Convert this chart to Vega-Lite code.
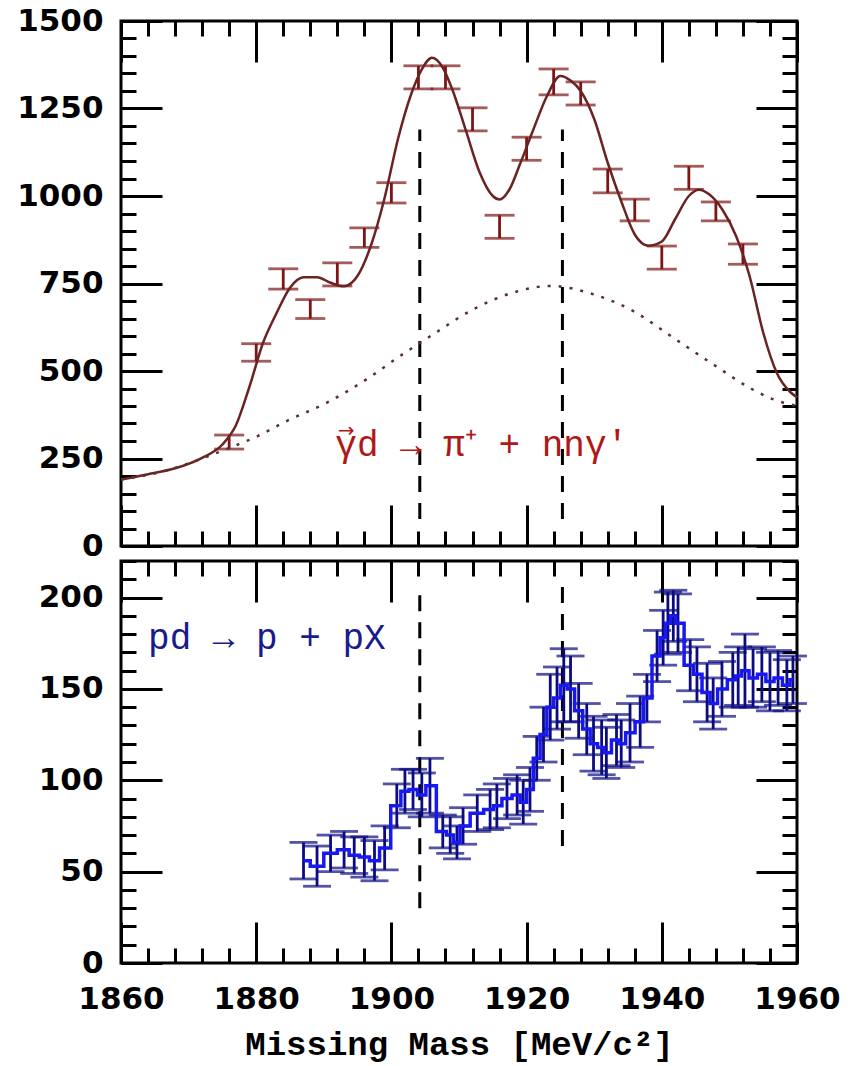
{
  "$schema": "https://vega.github.io/schema/vega-lite/v6.json",
  "autosize": {"type": "pad"},
  "padding": {"left": 15, "top": 3, "right": 5, "bottom": 5},
  "bounds": "flush",
  "spacing": 15,
  "background": "white",
  "datasets": {
    "ptop": [
      {"m": 1876, "n": 297, "lo": 277, "hi": 317},
      {"m": 1880, "n": 553, "lo": 528, "hi": 578},
      {"m": 1884, "n": 763, "lo": 734, "hi": 792},
      {"m": 1888, "n": 677, "lo": 650, "hi": 704},
      {"m": 1892, "n": 776, "lo": 743, "hi": 809},
      {"m": 1896, "n": 881, "lo": 853, "hi": 909},
      {"m": 1900, "n": 1009, "lo": 980, "hi": 1038},
      {"m": 1904, "n": 1339, "lo": 1306, "hi": 1372},
      {"m": 1908, "n": 1339, "lo": 1306, "hi": 1372},
      {"m": 1912, "n": 1219, "lo": 1186, "hi": 1252},
      {"m": 1916, "n": 912, "lo": 879, "hi": 945},
      {"m": 1920, "n": 1135, "lo": 1102, "hi": 1168},
      {"m": 1924, "n": 1326, "lo": 1289, "hi": 1363},
      {"m": 1928, "n": 1293, "lo": 1260, "hi": 1326},
      {"m": 1932, "n": 1043, "lo": 1009, "hi": 1077},
      {"m": 1936, "n": 960, "lo": 929, "hi": 991},
      {"m": 1940, "n": 824, "lo": 791, "hi": 857},
      {"m": 1944, "n": 1052, "lo": 1019, "hi": 1085},
      {"m": 1948, "n": 956, "lo": 929, "hi": 983},
      {"m": 1952, "n": 834, "lo": 805, "hi": 863}
    ],
    "fit": [
      {"m": 1860, "n": 190}, {"m": 1864, "n": 205}, {"m": 1868, "n": 222}, {"m": 1872, "n": 252},
      {"m": 1875, "n": 290}, {"m": 1877, "n": 345}, {"m": 1879, "n": 455}, {"m": 1881, "n": 580},
      {"m": 1883, "n": 665}, {"m": 1885, "n": 738}, {"m": 1887, "n": 768}, {"m": 1889, "n": 768},
      {"m": 1891, "n": 752}, {"m": 1893, "n": 742}, {"m": 1895, "n": 772}, {"m": 1897, "n": 860},
      {"m": 1899, "n": 995}, {"m": 1901, "n": 1165}, {"m": 1903, "n": 1295}, {"m": 1904.5, "n": 1362},
      {"m": 1906, "n": 1395}, {"m": 1907.5, "n": 1370}, {"m": 1909, "n": 1305}, {"m": 1911, "n": 1188},
      {"m": 1913, "n": 1070}, {"m": 1915, "n": 1000}, {"m": 1916, "n": 990}, {"m": 1917.5, "n": 1020},
      {"m": 1919, "n": 1090}, {"m": 1921, "n": 1190}, {"m": 1923, "n": 1285}, {"m": 1925, "n": 1343},
      {"m": 1926.5, "n": 1330}, {"m": 1928, "n": 1300}, {"m": 1930, "n": 1220}, {"m": 1932, "n": 1095},
      {"m": 1934, "n": 985}, {"m": 1936, "n": 890}, {"m": 1938, "n": 858}, {"m": 1940, "n": 870},
      {"m": 1942, "n": 935}, {"m": 1944, "n": 1000}, {"m": 1945.5, "n": 1018}, {"m": 1947, "n": 1005},
      {"m": 1949, "n": 960}, {"m": 1951, "n": 885}, {"m": 1953, "n": 770}, {"m": 1955, "n": 610},
      {"m": 1957, "n": 495}, {"m": 1959, "n": 440}, {"m": 1960, "n": 425}
    ],
    "bg": [
      {"m": 1860, "n": 190}, {"m": 1866, "n": 212}, {"m": 1872, "n": 250}, {"m": 1876, "n": 280},
      {"m": 1880, "n": 312}, {"m": 1884.5, "n": 357}, {"m": 1890.4, "n": 409}, {"m": 1896.3, "n": 476},
      {"m": 1901.3, "n": 543}, {"m": 1906.2, "n": 605}, {"m": 1912.1, "n": 676}, {"m": 1918, "n": 724},
      {"m": 1923.5, "n": 743}, {"m": 1929.9, "n": 719}, {"m": 1935.8, "n": 671}, {"m": 1941.7, "n": 595},
      {"m": 1947.6, "n": 519}, {"m": 1953, "n": 452}, {"m": 1956.5, "n": 419}, {"m": 1960, "n": 400}
    ],
    "dtop": [
      {"m": 1904.2, "lo": 77, "hi": 1190},
      {"m": 1925.3, "lo": 77, "hi": 1190}
    ],
    "dbot": [
      {"m": 1904.2, "lo": 30, "hi": 205},
      {"m": 1925.3, "lo": 64, "hi": 207}
    ],
    "blue": [
      {"m": 1887, "n": 56, "lo": 46, "hi": 66},
      {"m": 1889, "n": 53, "lo": 42, "hi": 64},
      {"m": 1891, "n": 60, "lo": 50, "hi": 70},
      {"m": 1893, "n": 62, "lo": 52, "hi": 72},
      {"m": 1894.5, "n": 59, "lo": 49, "hi": 69},
      {"m": 1896, "n": 58, "lo": 47, "hi": 69},
      {"m": 1897.5, "n": 56, "lo": 45, "hi": 67},
      {"m": 1899, "n": 63, "lo": 51, "hi": 75},
      {"m": 1900.8, "n": 86, "lo": 74, "hi": 98},
      {"m": 1902, "n": 94, "lo": 82, "hi": 106},
      {"m": 1903.2, "n": 95, "lo": 84, "hi": 106},
      {"m": 1904.5, "n": 92, "lo": 80, "hi": 104},
      {"m": 1905.7, "n": 97, "lo": 82, "hi": 112},
      {"m": 1907.6, "n": 72, "lo": 63, "hi": 81},
      {"m": 1908.7, "n": 70, "lo": 60, "hi": 80},
      {"m": 1909.7, "n": 66, "lo": 57, "hi": 75},
      {"m": 1910.6, "n": 75, "lo": 65, "hi": 85},
      {"m": 1912.7, "n": 82, "lo": 72, "hi": 92},
      {"m": 1914.6, "n": 84, "lo": 73, "hi": 95},
      {"m": 1915.6, "n": 86, "lo": 74, "hi": 98},
      {"m": 1917.1, "n": 90, "lo": 79, "hi": 101},
      {"m": 1918.6, "n": 92, "lo": 81, "hi": 103},
      {"m": 1919.5, "n": 88, "lo": 76, "hi": 100},
      {"m": 1920.5, "n": 95, "lo": 83, "hi": 107},
      {"m": 1921.5, "n": 112, "lo": 100, "hi": 124},
      {"m": 1922.5, "n": 125, "lo": 110, "hi": 140},
      {"m": 1923.5, "n": 140, "lo": 122, "hi": 158},
      {"m": 1924.5, "n": 145, "lo": 128, "hi": 162},
      {"m": 1925.5, "n": 152, "lo": 132, "hi": 172},
      {"m": 1926.5, "n": 150, "lo": 132, "hi": 168},
      {"m": 1927.7, "n": 138, "lo": 123, "hi": 153},
      {"m": 1928.9, "n": 128, "lo": 114, "hi": 142},
      {"m": 1929.9, "n": 120, "lo": 105, "hi": 135},
      {"m": 1931.1, "n": 118, "lo": 103, "hi": 133},
      {"m": 1931.8, "n": 115, "lo": 101, "hi": 129},
      {"m": 1933.3, "n": 122, "lo": 108, "hi": 136},
      {"m": 1934, "n": 120, "lo": 107, "hi": 133},
      {"m": 1935.3, "n": 126, "lo": 110, "hi": 142},
      {"m": 1936.8, "n": 132, "lo": 118, "hi": 146},
      {"m": 1937.8, "n": 145, "lo": 132, "hi": 158},
      {"m": 1939.3, "n": 168, "lo": 154, "hi": 182},
      {"m": 1940.2, "n": 178, "lo": 163, "hi": 193},
      {"m": 1940.9, "n": 186, "lo": 169, "hi": 203},
      {"m": 1941.7, "n": 190, "lo": 176, "hi": 204},
      {"m": 1942.4, "n": 186, "lo": 170, "hi": 202},
      {"m": 1944.2, "n": 163, "lo": 149, "hi": 177},
      {"m": 1945.2, "n": 158, "lo": 143, "hi": 173},
      {"m": 1946.7, "n": 148, "lo": 132, "hi": 164},
      {"m": 1947.6, "n": 142, "lo": 128, "hi": 156},
      {"m": 1948.9, "n": 150, "lo": 135, "hi": 165},
      {"m": 1950.5, "n": 155, "lo": 140, "hi": 170},
      {"m": 1951.3, "n": 157, "lo": 141, "hi": 173},
      {"m": 1952.3, "n": 160, "lo": 140, "hi": 180},
      {"m": 1953.5, "n": 156, "lo": 140, "hi": 172},
      {"m": 1954.8, "n": 158, "lo": 143, "hi": 173},
      {"m": 1956, "n": 154, "lo": 138, "hi": 170},
      {"m": 1957.2, "n": 156, "lo": 141, "hi": 171},
      {"m": 1958.5, "n": 152, "lo": 138, "hi": 166},
      {"m": 1959.4, "n": 155, "lo": 142, "hi": 168}
    ],
    "ttop": [{"m": 1891.7, "n": 257, "t": "γd → π⁺ + nnγ'"}],
    "tarrow": [{"m": 1893.3, "n": 328, "t": "→"}],
    "tbot": [{"m": 1864, "n": 172, "t": "pd → p + pX"}]
  },
  "vconcat": [
    {
      "width": 676,
      "height": 525,
      "resolve": {"axis": {"x": "independent", "y": "independent"}},
      "layer": [
        {
          "data": {"name": "dtop"},
          "mark": {"type": "rule", "strokeDash": [16, 11], "strokeWidth": 3, "color": "black"},
          "encoding": {
            "x": {"field": "m", "type": "quantitative", "scale": {"domain": [1860, 1960], "nice": false, "zero": false},
                  "axis": {"orient": "bottom", "values": [1860, 1880, 1900, 1920, 1940, 1960], "labels": false, "tickSize": -41, "title": null}},
            "y": {"field": "lo", "type": "quantitative", "scale": {"domain": [0, 1500], "nice": false},
                  "axis": {"orient": "left", "values": [0, 250, 500, 750, 1000, 1250, 1500], "format": "d", "ticks": false, "labelPadding": 18, "labelFlush": false, "labelOverlap": false, "title": null}},
            "y2": {"field": "hi"}
          }
        },
        {
          "data": {"name": "ptop"},
          "mark": {"type": "rule", "color": "#7e1515", "strokeWidth": 2.8},
          "encoding": {
            "x": {"field": "m", "type": "quantitative",
                  "axis": {"orient": "top", "values": [1860, 1880, 1900, 1920, 1940, 1960], "labels": false, "tickSize": -41, "title": null}},
            "y": {"field": "lo", "type": "quantitative",
                  "axis": {"orient": "left", "values": [0, 250, 500, 750, 1000, 1250, 1500], "labels": false, "tickSize": -41, "title": null}},
            "y2": {"field": "hi"}
          }
        },
        {
          "data": {"name": "ptop"},
          "mark": {"type": "tick", "orient": "horizontal", "size": 30, "thickness": 2.8, "color": "#7e1515"},
          "encoding": {
            "x": {"field": "m", "type": "quantitative",
                  "axis": {"orient": "bottom", "values": [1860,1864,1868,1872,1876,1880,1884,1888,1892,1896,1900,1904,1908,1912,1916,1920,1924,1928,1932,1936,1940,1944,1948,1952,1956,1960], "labels": false, "tickSize": -15, "title": null}},
            "y": {"field": "lo", "type": "quantitative",
                  "axis": {"orient": "right", "values": [0, 250, 500, 750, 1000, 1250, 1500], "labels": false, "tickSize": -41, "title": null}}
          }
        },
        {
          "data": {"name": "ptop"},
          "mark": {"type": "tick", "orient": "horizontal", "size": 30, "thickness": 2.8, "color": "#7e1515"},
          "encoding": {
            "x": {"field": "m", "type": "quantitative",
                  "axis": {"orient": "top", "values": [1860,1864,1868,1872,1876,1880,1884,1888,1892,1896,1900,1904,1908,1912,1916,1920,1924,1928,1932,1936,1940,1944,1948,1952,1956,1960], "labels": false, "tickSize": -15, "title": null}},
            "y": {"field": "hi", "type": "quantitative",
                  "axis": {"orient": "left", "values": [0,50,100,150,200,250,300,350,400,450,500,550,600,650,700,750,800,850,900,950,1000,1050,1100,1150,1200,1250,1300,1350,1400,1450,1500], "labels": false, "tickSize": -15, "title": null}}
          }
        },
        {
          "data": {"name": "fit"},
          "mark": {"type": "line", "color": "#6a2222", "strokeWidth": 2.5, "interpolate": "monotone"},
          "encoding": {
            "x": {"field": "m", "type": "quantitative", "axis": null},
            "y": {"field": "n", "type": "quantitative",
                  "axis": {"orient": "right", "values": [0,50,100,150,200,250,300,350,400,450,500,550,600,650,700,750,800,850,900,950,1000,1050,1100,1150,1200,1250,1300,1350,1400,1450,1500], "labels": false, "tickSize": -15, "title": null}}
          }
        },
        {
          "data": {"name": "bg"},
          "mark": {"type": "line", "color": "#5a3030", "strokeWidth": 2.5, "strokeDash": [3, 8], "interpolate": "monotone"},
          "encoding": {
            "x": {"field": "m", "type": "quantitative", "axis": null},
            "y": {"field": "n", "type": "quantitative", "axis": null}
          }
        },
        {
          "data": {"name": "ttop"},
          "mark": {"type": "text", "align": "left", "baseline": "alphabetic", "font": "Liberation Mono", "fontSize": 36, "color": "#b01818"},
          "encoding": {
            "x": {"field": "m", "type": "quantitative", "axis": null},
            "y": {"field": "n", "type": "quantitative", "axis": null},
            "text": {"field": "t"}
          }
        },
        {
          "data": {"name": "tarrow"},
          "mark": {"type": "text", "align": "center", "baseline": "middle", "font": "DejaVu Sans", "fontSize": 20, "color": "#b01818"},
          "encoding": {
            "x": {"field": "m", "type": "quantitative", "axis": null},
            "y": {"field": "n", "type": "quantitative", "axis": null},
            "text": {"field": "t"}
          }
        }
      ]
    },
    {
      "width": 676,
      "height": 402,
      "resolve": {"axis": {"x": "independent", "y": "independent"}},
      "layer": [
        {
          "data": {"name": "dbot"},
          "mark": {"type": "rule", "strokeDash": [16, 11], "strokeWidth": 3, "color": "black"},
          "encoding": {
            "x": {"field": "m", "type": "quantitative", "scale": {"domain": [1860, 1960], "nice": false, "zero": false},
                  "axis": {"orient": "bottom", "values": [1860, 1880, 1900, 1920, 1940, 1960], "format": "d", "ticks": false, "labelPadding": 21, "labelFlush": false, "labelOverlap": false,
                           "title": "Missing Mass [MeV/c²]", "titleFont": "Liberation Mono", "titleFontSize": 34, "titleFontWeight": "bold", "titleColor": "black", "titleY": 91, "titleBaseline": "alphabetic"}},
            "y": {"field": "lo", "type": "quantitative", "scale": {"domain": [0, 220], "nice": false},
                  "axis": {"orient": "left", "values": [0, 50, 100, 150, 200], "format": "d", "ticks": false, "labelPadding": 18, "labelFlush": false, "labelOverlap": false, "title": null}},
            "y2": {"field": "hi"}
          }
        },
        {
          "data": {"name": "blue"},
          "mark": {"type": "rule", "color": "#0c0c80", "strokeWidth": 2.8},
          "encoding": {
            "x": {"field": "m", "type": "quantitative",
                  "axis": {"orient": "bottom", "values": [1860, 1880, 1900, 1920, 1940, 1960], "labels": false, "tickSize": -41, "title": null}},
            "y": {"field": "lo", "type": "quantitative",
                  "axis": {"orient": "left", "values": [0, 50, 100, 150, 200], "labels": false, "tickSize": -41, "title": null}},
            "y2": {"field": "hi"}
          }
        },
        {
          "data": {"name": "blue"},
          "mark": {"type": "tick", "orient": "horizontal", "size": 28, "thickness": 2.8, "color": "#0c0c80"},
          "encoding": {
            "x": {"field": "m", "type": "quantitative",
                  "axis": {"orient": "top", "values": [1860, 1880, 1900, 1920, 1940, 1960], "labels": false, "tickSize": -41, "title": null}},
            "y": {"field": "lo", "type": "quantitative",
                  "axis": {"orient": "right", "values": [0, 50, 100, 150, 200], "labels": false, "tickSize": -41, "title": null}}
          }
        },
        {
          "data": {"name": "blue"},
          "mark": {"type": "tick", "orient": "horizontal", "size": 28, "thickness": 2.8, "color": "#0c0c80"},
          "encoding": {
            "x": {"field": "m", "type": "quantitative",
                  "axis": {"orient": "bottom", "values": [1860,1864,1868,1872,1876,1880,1884,1888,1892,1896,1900,1904,1908,1912,1916,1920,1924,1928,1932,1936,1940,1944,1948,1952,1956,1960], "labels": false, "tickSize": -15, "title": null}},
            "y": {"field": "hi", "type": "quantitative",
                  "axis": {"orient": "left", "values": [0,10,20,30,40,50,60,70,80,90,100,110,120,130,140,150,160,170,180,190,200,210,220], "labels": false, "tickSize": -15, "title": null}}
          }
        },
        {
          "data": {"name": "blue"},
          "mark": {"type": "line", "color": "#1818f0", "strokeWidth": 3.5, "interpolate": "step"},
          "encoding": {
            "x": {"field": "m", "type": "quantitative",
                  "axis": {"orient": "top", "values": [1860,1864,1868,1872,1876,1880,1884,1888,1892,1896,1900,1904,1908,1912,1916,1920,1924,1928,1932,1936,1940,1944,1948,1952,1956,1960], "labels": false, "tickSize": -15, "title": null}},
            "y": {"field": "n", "type": "quantitative",
                  "axis": {"orient": "right", "values": [0,10,20,30,40,50,60,70,80,90,100,110,120,130,140,150,160,170,180,190,200,210,220], "labels": false, "tickSize": -15, "title": null}}
          }
        },
        {
          "data": {"name": "tbot"},
          "mark": {"type": "text", "align": "left", "baseline": "alphabetic", "font": "Liberation Mono", "fontSize": 36, "color": "#1a1a8a"},
          "encoding": {
            "x": {"field": "m", "type": "quantitative", "axis": null},
            "y": {"field": "n", "type": "quantitative", "axis": null},
            "text": {"field": "t"}
          }
        }
      ]
    }
  ],
  "config": {
    "view": {"stroke": "black", "strokeWidth": 3},
    "axis": {
      "grid": false,
      "domain": false,
      "tickColor": "black",
      "tickWidth": 3,
      "labelColor": "black",
      "labelFont": "DejaVu Sans",
      "labelFontWeight": "bold",
      "labelFontSize": 31
    }
  }
}
